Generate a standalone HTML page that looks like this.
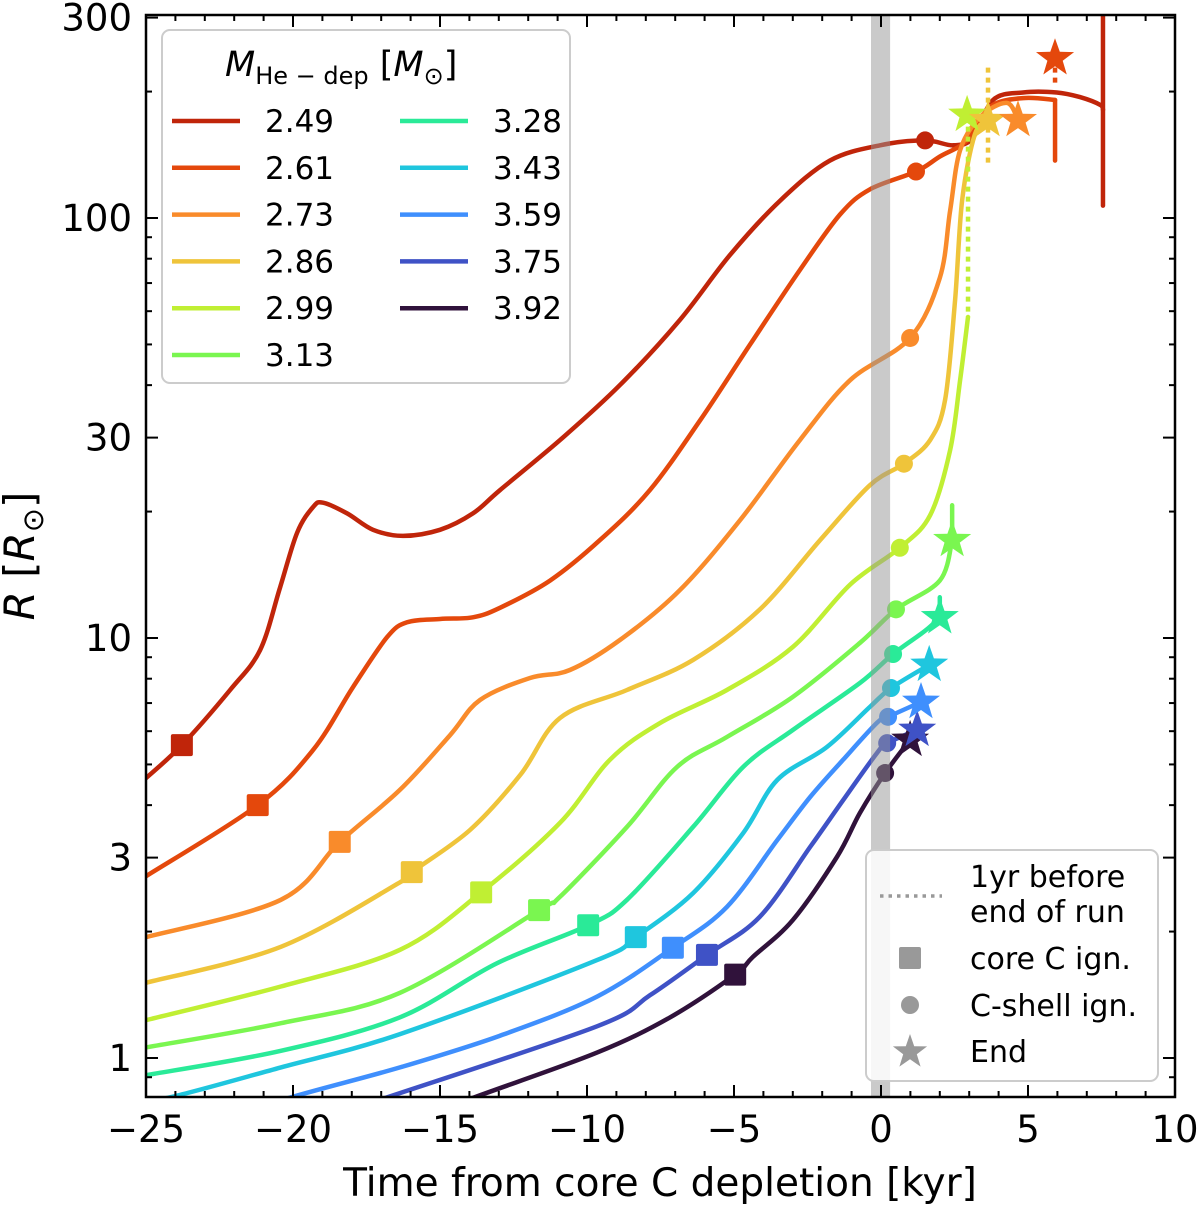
<!DOCTYPE html>
<html><head><meta charset="utf-8"><style>
html,body{margin:0;padding:0;background:#fff;}
svg{display:block;font-family:"DejaVu Sans","Liberation Sans",sans-serif;}
</style></head><body>
<svg id="chart" width="1200" height="1205" viewBox="0 0 1200 1205" xmlns="http://www.w3.org/2000/svg">
<defs><clipPath id="plotclip"><rect x="146" y="15" width="1029" height="1082"/></clipPath></defs>
<g id="series" clip-path="url(#plotclip)"></g>
<g id="axes"></g>
<g id="legend"></g>
<g id="legend2"></g>
</svg>
<script>
const masses = ["2.49","2.61","2.73","2.86","2.99","3.13","3.28","3.43","3.59","3.75","3.92"];
const colors = ["#c0250a","#e4480c","#f98b2b","#efc43a","#c0ef33","#7af650","#2aea98","#1fc6de","#3f8ffd","#3f52c6","#30123b"];
const s0t = [-25,-23.78,-22.14,-21.12,-20.44,-19.86,-19.32,-18.98,-18.16,-17.28,-16.26,-15.0,-13.88,-12.96,-10.92,-8.88,-6.84,-5.14,-3.43,-1.74,-0.03,1.50,2.45,3.12,3.81,4.83,5.98,6.77,7.45,7.55];
const s0R = [4.64,5.56,7.52,9.36,13.2,17.8,20.5,21.0,19.8,18.1,17.5,18.1,19.8,22.5,29.6,40.0,57.2,81.6,110,137,149,153,149,155,191,199,199,194,186,181];
const s1t = [-25,-21.2,-19.32,-17.96,-16.8,-16.12,-15.0,-13.88,-12.96,-11.26,-9.56,-7.86,-6.15,-4.46,-2.76,-1.39,-0.38,1.19,2.0,2.93,3.71,4.83,5.92];
const s1R = [2.71,4.0,5.41,7.64,10.05,10.9,11.1,11.2,11.8,13.7,17.1,22.5,33.0,49.9,75.2,102,117,129,140,153,184,193,191];
const s2t = [-25,-20.41,-18.41,-16.36,-14.66,-13.64,-11.94,-10.58,-8.88,-6.84,-4.79,-2.76,-1.05,0.99,2.0,2.35,2.69,3.37,4.28,4.66];
const s2R = [1.94,2.38,3.27,4.35,5.87,7.12,8.03,8.39,9.89,13.0,19.1,29.6,41.1,51.8,72,104,145,174,188,171];
const s3t = [-25,-20.41,-16.36,-15.96,-13.98,-12.27,-10.92,-8.64,-6.39,-4.12,-2.07,-0.38,0.78,1.67,2.18,2.52,2.76,3.19,3.64];
const s3R = [1.51,1.84,2.62,2.77,3.49,4.72,6.45,7.52,8.87,11.7,17.1,23.1,26.0,29.6,36.9,63.8,110,158,171];
const s4t = [-25,-20.41,-16.36,-13.6,-10.92,-9.22,-7.51,-5.24,-3.0,-1.05,0.64,1.67,2.35,2.69,2.96];
const s4R = [1.23,1.48,1.81,2.48,3.63,5.13,6.28,7.52,9.52,13.4,16.4,19.6,28.0,41.1,58.1];
const s5t = [-25,-20.41,-16.36,-11.63,-10.92,-8.64,-6.94,-5.24,-3.0,-0.72,0.51,2.0,2.42];
const s5R = [1.06,1.21,1.43,2.25,2.42,3.55,4.93,5.81,7.24,9.73,11.7,13.7,17.1];
const s6t = [-25,-20.41,-16.36,-13.07,-9.96,-8.64,-6.39,-4.69,-3.0,-0.72,0.41,1.5,2.0];
const s6R = [0.91,1.04,1.25,1.68,2.07,2.38,3.55,4.93,6.04,7.81,9.16,10.4,11.2];
const s7t = [-25.87,-24.05,-20.41,-16.36,-9.66,-8.34,-6.39,-4.69,-3.53,-1.84,-0.38,0.34,1.64];
const s7R = [0.77,0.81,0.95,1.14,1.71,1.94,2.47,3.43,4.59,5.50,6.85,7.6,8.63];
const s8t = [-23.19,-19.96,-16.36,-12.96,-9.66,-7.08,-5.24,-3.53,-2.41,-1.29,-0.14,0.24,1.36];
const s8R = [0.69,0.81,0.95,1.13,1.40,1.83,2.29,3.30,4.18,5.13,6.28,6.49,7.04];
const s9t = [-19.77,-16.7,-9.66,-7.86,-5.92,-4.12,-2.41,-1.29,-0.14,0.21,1.23];
const s9R = [0.69,0.81,1.19,1.41,1.76,2.17,3.18,4.11,5.32,5.62,6.04];
const s10t = [-16.36,-13.74,-9.66,-7.17,-4.96,-4.36,-3.0,-1.5,-0.72,0.14,0.99];
const s10R = [0.69,0.81,1.03,1.25,1.58,1.74,2.13,3.01,3.83,4.77,5.72];
const seriesT = [s0t,s1t,s2t,s3t,s4t,s5t,s6t,s7t,s8t,s9t,s10t];
const seriesR = [s0R,s1R,s2R,s3R,s4R,s5R,s6R,s7R,s8R,s9R,s10R];
const sqT = [-23.78,-21.2,-18.41,-15.96,-13.6,-11.63,-9.96,-8.34,-7.08,-5.92,-4.96];
const sqR = [5.56,4.0,3.27,2.77,2.48,2.25,2.07,1.94,1.83,1.76,1.58];
const ciT = [1.5,1.19,0.99,0.78,0.64,0.51,0.41,0.34,0.24,0.21,0.14];
const ciR = [153,129,51.8,26.0,16.4,11.7,9.16,7.6,6.49,5.62,4.77];
const stT = [7.55,5.92,4.66,3.64,2.93,2.42,2.0,1.64,1.36,1.23,0.99];
const stR = [420,240,171,171,176,17.1,11.2,8.63,7.04,6.04,5.72];
const spikeIdx = [0,1,5,6];
const spikeT = [7.55,5.92,2.42,2.0];
const spikeR0 = [107,191,17.1,11.2];
const spikeR1 = [400,137,20.7,12.5];
const dotIdx = [1,3,4];
const dotT = [5.92,3.64,2.96];
const dotR0 = [228,228,165];
const dotR1 = [205,135,58.1];
const bandT = [-0.34,0.31];
const xTicks = [-25,-20,-15,-10,-5,0,5,10];
const xTickLabels = ["\u221225","\u221220","\u221215","\u221210","\u22125","0","5","10"];
const yTicks = [1,3,10,30,100,300];
const yTickLabels = ["1","3","10","30","100","300"];

const X0=146,X1=1175,Y0=15,Y1=1097;
function xs(t){return 881 + t*29.4;}
function ys(R){return 1058 - 420*Math.log10(R);}
const NS="http://www.w3.org/2000/svg";
function mk(tag,attrs,parent){const e=document.createElementNS(NS,tag);for(const k in attrs)e.setAttribute(k,attrs[k]);parent.appendChild(e);return e;}
function smooth(pts){
  let d="M"+pts[0][0].toFixed(1)+","+pts[0][1].toFixed(1);
  for(let i=0;i<pts.length-1;i++){
    const p0=pts[Math.max(0,i-1)],p1=pts[i],p2=pts[i+1],p3=pts[Math.min(pts.length-1,i+2)];
    const c1=[p1[0]+(p2[0]-p0[0])/6,p1[1]+(p2[1]-p0[1])/6];
    const c2=[p2[0]-(p3[0]-p1[0])/6,p2[1]-(p3[1]-p1[1])/6];
    d+=" C"+c1[0].toFixed(1)+","+c1[1].toFixed(1)+" "+c2[0].toFixed(1)+","+c2[1].toFixed(1)+" "+p2[0].toFixed(1)+","+p2[1].toFixed(1);
  }
  return d;
}
function starPts(cx,cy,ro){
  const ri=ro*0.4;let s=[];
  for(let k=0;k<10;k++){const r=k%2?ri:ro;const a=-Math.PI/2+k*Math.PI/5;s.push((cx+r*Math.cos(a)).toFixed(1)+","+(cy+r*Math.sin(a)).toFixed(1));}
  return s.join(" ");
}
const g=document.getElementById("series");
for(let i=0;i<masses.length;i++){
  const pts=seriesT[i].map((t,j)=>[xs(t),ys(seriesR[i][j])]);
  const p=mk("path",{d:smooth(pts),fill:"none",stroke:colors[i],"stroke-width":4.5,"stroke-linecap":"round","stroke-linejoin":"round"},g);
  
  
}
for(let k=0;k<spikeIdx.length;k++){
  const l=mk("line",{x1:xs(spikeT[k]),y1:ys(spikeR0[k]),x2:xs(spikeT[k]),y2:ys(spikeR1[k]),stroke:colors[spikeIdx[k]],"stroke-width":4.5,"stroke-linecap":"round"},g);
  
  
}
for(let k=0;k<dotIdx.length;k++){
  const l=mk("line",{x1:xs(dotT[k]),y1:ys(dotR0[k]),x2:xs(dotT[k]),y2:ys(dotR1[k]),stroke:colors[dotIdx[k]],"stroke-width":4.5,"stroke-dasharray":"5,5"},g);
  
  
}
for(let i=0;i<masses.length;i++){
  const s=mk("rect",{x:xs(sqT[i])-11,y:ys(sqR[i])-11,width:22,height:22,rx:2,fill:colors[i]},g);
  
  
  const c=mk("circle",{cx:xs(ciT[i]),cy:ys(ciR[i]),r:9,fill:colors[i]},g);
  
  
}
for(let i=masses.length-1;i>=0;i--){
  const st=mk("polygon",{points:starPts(xs(stT[i]),ys(stR[i]),20),fill:colors[i],"stroke-linejoin":"round"},g);
  
  
}
const band=mk("rect",{x:xs(bandT[0]),y:Y0,width:xs(bandT[1])-xs(bandT[0]),height:Y1-Y0,fill:"rgb(150,150,150)","fill-opacity":0.5},g);



const ax=document.getElementById("axes");
mk("rect",{x:X0,y:Y0,width:X1-X0,height:Y1-Y0,fill:"none",stroke:"#000","stroke-width":2.5},ax);
for(let t=-25;t<=10;t++){
  const x=xs(t);const major=(t%5===0);const L=major?12:6;
  mk("line",{x1:x,y1:Y1,x2:x,y2:Y1-L,stroke:"#000","stroke-width":2},ax);
  mk("line",{x1:x,y1:Y0,x2:x,y2:Y0+L,stroke:"#000","stroke-width":2},ax);
}
xTicks.forEach((t,i)=>{
  const tx=mk("text",{x:xs(t),y:1142,"text-anchor":"middle","font-size":37,fill:"#000"},ax);
  tx.textContent=xTickLabels[i];
  
  
});
for(let dec=-1;dec<=2;dec++){
  for(let m=1;m<10;m++){
    const R=m*Math.pow(10,dec);const y=ys(R);
    if(y<Y0-0.5||y>Y1)continue;
    const major=yTicks.indexOf(Math.round(R*1000)/1000)>=0;const L=major?12:6;
    mk("line",{x1:X0,y1:y,x2:X0+L,y2:y,stroke:"#000","stroke-width":2},ax);
    mk("line",{x1:X1,y1:y,x2:X1-L,y2:y,stroke:"#000","stroke-width":2},ax);
  }
}
yTicks.forEach((R,i)=>{
  const tx=mk("text",{x:132,y:ys(R)+13,"text-anchor":"end","font-size":37,fill:"#000"},ax);
  tx.textContent=yTickLabels[i];
  
  
});
const xl=mk("text",{x:660,y:1196,"text-anchor":"middle","font-size":39,fill:"#000"},ax);
xl.textContent="Time from core C depletion [kyr]";


const yl=mk("text",{x:0,y:0,"text-anchor":"middle","font-size":42,fill:"#000",transform:"translate(34,556) rotate(-90)"},ax);
yl.innerHTML='<tspan font-style="italic">R</tspan> [<tspan font-style="italic">R</tspan><tspan font-size="29" dy="9">⊙</tspan><tspan dy="-9">]</tspan>';



const lg=document.getElementById("legend");
mk("rect",{x:162,y:30,width:408,height:353,rx:8,fill:"#fff","fill-opacity":0.85,stroke:"#cccccc","stroke-width":2},lg);
const ttl=mk("text",{x:225,y:76,"font-size":35,fill:"#000"},lg);
ttl.innerHTML='<tspan font-style="italic">M</tspan><tspan font-size="24" dy="8">He − dep</tspan><tspan dy="-8"> [</tspan><tspan font-style="italic">M</tspan><tspan font-size="24" dy="8">⊙</tspan><tspan dy="-8">]</tspan>';


masses.forEach((m,i)=>{
  const col=i<6?0:1,row=i<6?i:i-6;
  const lx=col?400:172,y=121+row*46.8;
  const e=mk("g",{},lg);
  
  
  mk("line",{x1:lx,y1:y,x2:lx+68,y2:y,stroke:colors[i],"stroke-width":4.5},e);
  const t=mk("text",{x:lx+93,y:y+11,"font-size":31,fill:"#000"},e);
  t.textContent=m;
});
const l2=document.getElementById("legend2");
mk("rect",{x:866,y:850,width:292,height:231,rx:8,fill:"#fff","fill-opacity":0.85,stroke:"#cccccc","stroke-width":2},l2);
function entry(name){const e=mk("g",{},l2);return e;}
let e=entry('legend-one-year-before');
mk("line",{x1:880,y1:896,x2:942,y2:896,stroke:"#999","stroke-width":3.5,"stroke-dasharray":"3.5,5"},e);
let t=mk("text",{x:970,y:887,"font-size":30,fill:"#000"},e);t.textContent="1yr before";
t=mk("text",{x:970,y:922,"font-size":30,fill:"#000"},e);t.textContent="end of run";
e=entry('legend-core-c-ignition');
mk("rect",{x:899,y:947,width:22,height:22,rx:2,fill:"#999"},e);
t=mk("text",{x:970,y:969,"font-size":30,fill:"#000"},e);t.textContent="core C ign.";
e=entry('legend-c-shell-ignition');
mk("circle",{cx:910,cy:1005,r:9,fill:"#999"},e);
t=mk("text",{x:970,y:1016,"font-size":30,fill:"#000"},e);t.textContent="C-shell ign.";
e=entry('legend-end');
mk("polygon",{points:starPts(910,1052,18),fill:"#999"},e);
t=mk("text",{x:970,y:1062,"font-size":30,fill:"#000"},e);t.textContent="End";
</script>
</body></html>
